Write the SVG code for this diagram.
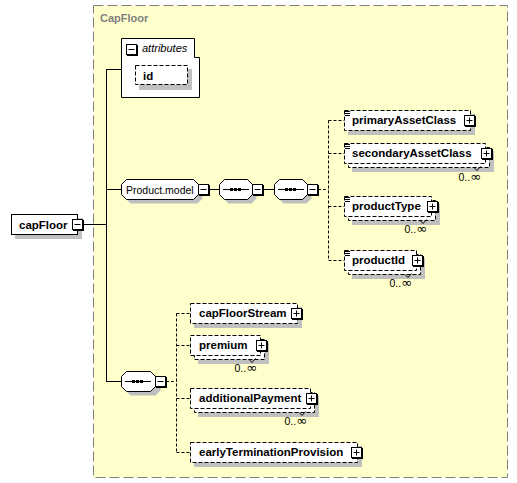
<svg xmlns="http://www.w3.org/2000/svg" xmlns:xlink="http://www.w3.org/1999/xlink" width="517" height="483" viewBox="0 0 517 483">
<style>
.solid{fill:none;stroke:#000;stroke-width:1}
.dash{fill:none;stroke:#000;stroke-width:1;stroke-dasharray:3,2}
.ebox{fill:#fff;stroke:#000;stroke-width:1;stroke-dasharray:4,2}
.sbox{fill:#fff;stroke:#000;stroke-width:1}
.shadow{fill:#c0c0c0;stroke:none}
.name{font-family:"Liberation Sans",Arial,sans-serif;font-weight:bold;font-size:11.5px;fill:#000}
.reg{font-family:"Liberation Sans",Arial,sans-serif;font-size:10.5px;fill:#000}
.occ{font-family:"Liberation Sans",Arial,sans-serif;font-size:10.5px;fill:#000;text-anchor:end}
.inf{font-family:"DejaVu Sans","Liberation Sans",sans-serif;font-size:13px}
.icon{fill:none;stroke:#000;stroke-width:1}
</style>
<defs>
<g id="plusbox"><rect x="1" y="1" width="11" height="11" fill="#000"/><rect x="0.5" y="0.5" width="10" height="10" fill="#fff" stroke="#000"/><path d="M2.5 5.5H8.5M5.5 2.5V8.5" stroke="#000"/></g>
<g id="minusbox"><rect x="1" y="1" width="11" height="11" fill="#000"/><rect x="0.5" y="0.5" width="10" height="10" fill="#fff" stroke="#000"/><path d="M2.5 5.5H8.5" stroke="#000"/></g>
<path id="lines" d="M345 111.5h5M345 113.5h5M345 115.5h5"/>
</defs>

<g id="CapFloor">
<rect x="93.5" y="5.5" width="414" height="472" fill="#ffffcc" stroke="#808080" stroke-dasharray="10,4"/>
<text x="100" y="22" font-family="Liberation Sans, Arial, sans-serif" font-weight="bold" font-size="11px" fill="#808080">CapFloor</text>
</g>

<g id="connectors">
<path class="solid" d="M83 224.5H106.5M106.5 69V382M106.5 69.5H121.5M106.5 189.5H121.5M106.5 381.5H121.5M209 189.5H219.5M263 189.5H274.5"/>
<path class="dash" d="M318 189.5H328.5M328.5 120.5V260.5M328.5 120.5H344.5M328.5 153.5H344.5M328.5 206.5H344.5M328.5 260.5H344.5"/>
<path class="dash" d="M166 381.5H176.5M176.5 313.5V452.5M176.5 313.5H190.5M176.5 345.5H190.5M176.5 398.5H190.5M176.5 452.5H190.5"/>
</g>

<g id="capFloor">
<rect class="shadow" x="15" y="218" width="67" height="21"/>
<rect class="sbox" x="11.5" y="214.5" width="66" height="20"/>
<text class="name" x="19" y="229" font-size="11px">capFloor</text>
<use xlink:href="#minusbox" x="72" y="219"/>
</g>

<g id="attributes">
<polygon points="121.5,38.5 194.5,38.5 194.5,57.5 199.5,57.5 199.5,97.5 121.5,97.5" fill="#fff" stroke="#000"/>
<use xlink:href="#minusbox" x="126" y="44"/>
<text x="142" y="52" font-family="Liberation Sans, Arial, sans-serif" font-style="italic" font-size="11px">attributes</text>
<rect class="shadow" x="139" y="69" width="53" height="21"/>
<rect class="ebox" x="135.5" y="65.5" width="52" height="19"/>
<text class="name" x="143" y="80">id</text>
</g>

<g id="Product.model">
<polygon class="shadow" points="130.5,183.5 197.5,183.5 202.5,188.5 202.5,198.5 197.5,203.5 130.5,203.5 125.5,198.5 125.5,188.5"/>
<polygon points="126.5,179.5 193.5,179.5 198.5,184.5 198.5,194.5 193.5,199.5 126.5,199.5 121.5,194.5 121.5,184.5" fill="#fff" stroke="#000"/>
<text class="reg" x="126" y="193.5">Product.model</text>
<use xlink:href="#minusbox" x="198" y="184"/>
</g>

<g id="sequence1">
<polygon class="shadow" points="228.5,183.5 251.5,183.5 256.5,188.5 256.5,198.5 251.5,203.5 228.5,203.5 223.5,198.5 223.5,188.5"/>
<polygon points="224.5,179.5 247.5,179.5 252.5,184.5 252.5,194.5 247.5,199.5 224.5,199.5 219.5,194.5 219.5,184.5" fill="#fff" stroke="#000"/>
<path class="solid" d="M223 189.5H249"/>
<rect x="230" y="188" width="3" height="3"/><rect x="234" y="188" width="3" height="3"/><rect x="238" y="188" width="3" height="3"/>
<use xlink:href="#minusbox" x="252" y="184"/>
</g>

<g id="sequence2">
<polygon class="shadow" points="283.5,183.5 306.5,183.5 311.5,188.5 311.5,198.5 306.5,203.5 283.5,203.5 278.5,198.5 278.5,188.5"/>
<polygon points="279.5,179.5 302.5,179.5 307.5,184.5 307.5,194.5 302.5,199.5 279.5,199.5 274.5,194.5 274.5,184.5" fill="#fff" stroke="#000"/>
<path class="solid" d="M278 189.5H304"/>
<rect x="285" y="188" width="3" height="3"/><rect x="289" y="188" width="3" height="3"/><rect x="293" y="188" width="3" height="3"/>
<use xlink:href="#minusbox" x="307" y="184"/>
</g>

<g id="sequence3">
<polygon class="shadow" points="130.5,375.5 155.5,375.5 160.5,380.5 160.5,390.5 155.5,395.5 130.5,395.5 125.5,390.5 125.5,380.5"/>
<polygon points="126.5,371.5 150.5,371.5 155.5,376.5 155.5,386.5 150.5,391.5 126.5,391.5 121.5,386.5 121.5,376.5" fill="#fff" stroke="#000"/>
<path class="solid" d="M125 381.5H151"/>
<rect x="132" y="380" width="3" height="3"/><rect x="136" y="380" width="3" height="3"/><rect x="140" y="380" width="3" height="3"/>
<use xlink:href="#minusbox" x="155" y="376"/>
</g>

<g id="primaryAssetClass">
<rect class="shadow" x="348" y="114" width="127" height="21"/>
<rect class="ebox" x="344.5" y="110.5" width="126" height="20"/>
<use xlink:href="#lines" class="icon"/>
<text class="name" x="352" y="124">primaryAssetClass</text>
<use xlink:href="#plusbox" x="464" y="115"/>
</g>

<g id="secondaryAssetClass">
<rect class="shadow" x="352" y="151" width="142" height="21"/>
<rect class="ebox" x="348.5" y="147.5" width="141" height="20"/>
<rect class="ebox" x="344.5" y="143.5" width="141" height="20"/>
<use xlink:href="#lines" class="icon" y="33"/>
<text class="name" x="352" y="157">secondaryAssetClass</text>
<use xlink:href="#plusbox" x="481" y="148"/>
<polyline class="icon" points="474,167.5 477,170.5 480.5,166.5"/>
<text class="occ" x="481" y="181">0..<tspan class="inf">∞</tspan></text>
</g>

<g id="productType">
<rect class="shadow" x="352" y="204" width="88" height="21"/>
<rect class="ebox" x="348.5" y="200.5" width="87" height="20"/>
<rect class="ebox" x="344.5" y="196.5" width="87" height="20"/>
<use xlink:href="#lines" class="icon" y="86"/>
<text class="name" x="352" y="210">productType</text>
<use xlink:href="#plusbox" x="427" y="201"/>
<polyline class="icon" points="420,220.5 423,223.5 426.5,219.5"/>
<text class="occ" x="427" y="233">0..<tspan class="inf">∞</tspan></text>
</g>

<g id="productId">
<rect class="shadow" x="352" y="258" width="73" height="21"/>
<rect class="ebox" x="348.5" y="254.5" width="72" height="20"/>
<rect class="ebox" x="344.5" y="250.5" width="72" height="20"/>
<use xlink:href="#lines" class="icon" y="140"/>
<text class="name" x="352" y="264">productId</text>
<use xlink:href="#plusbox" x="412" y="255"/>
<polyline class="icon" points="405,274.5 408,277.5 411.5,273.5"/>
<text class="occ" x="412" y="287">0..<tspan class="inf">∞</tspan></text>
</g>

<g id="capFloorStream">
<rect class="shadow" x="194" y="307" width="108" height="21"/>
<rect class="ebox" x="190.5" y="303.5" width="107" height="20"/>
<text class="name" x="199" y="317">capFloorStream</text>
<use xlink:href="#plusbox" x="291" y="308"/>
</g>

<g id="premium">
<rect class="shadow" x="198" y="343" width="71" height="21"/>
<rect class="ebox" x="194.5" y="339.5" width="70" height="20"/>
<rect class="ebox" x="190.5" y="335.5" width="70" height="20"/>
<text class="name" x="199" y="349">premium</text>
<use xlink:href="#plusbox" x="256" y="340"/>
<polyline class="icon" points="249,359.5 252,362.5 255.5,358.5"/>
<text class="occ" x="257" y="372">0..<tspan class="inf">∞</tspan></text>
</g>

<g id="additionalPayment">
<rect class="shadow" x="198" y="396" width="121" height="21"/>
<rect class="ebox" x="194.5" y="392.5" width="120" height="20"/>
<rect class="ebox" x="190.5" y="388.5" width="120" height="20"/>
<text class="name" x="199" y="402">additionalPayment</text>
<use xlink:href="#plusbox" x="306" y="393"/>
<polyline class="icon" points="299,412.5 302,415.5 305.5,411.5"/>
<text class="occ" x="307" y="425">0..<tspan class="inf">∞</tspan></text>
</g>

<g id="earlyTerminationProvision">
<rect class="shadow" x="194" y="446" width="168" height="21"/>
<rect class="ebox" x="190.5" y="442.5" width="167" height="20"/>
<text class="name" x="199" y="456">earlyTerminationProvision</text>
<use xlink:href="#plusbox" x="351" y="447"/>
</g>
</svg>
